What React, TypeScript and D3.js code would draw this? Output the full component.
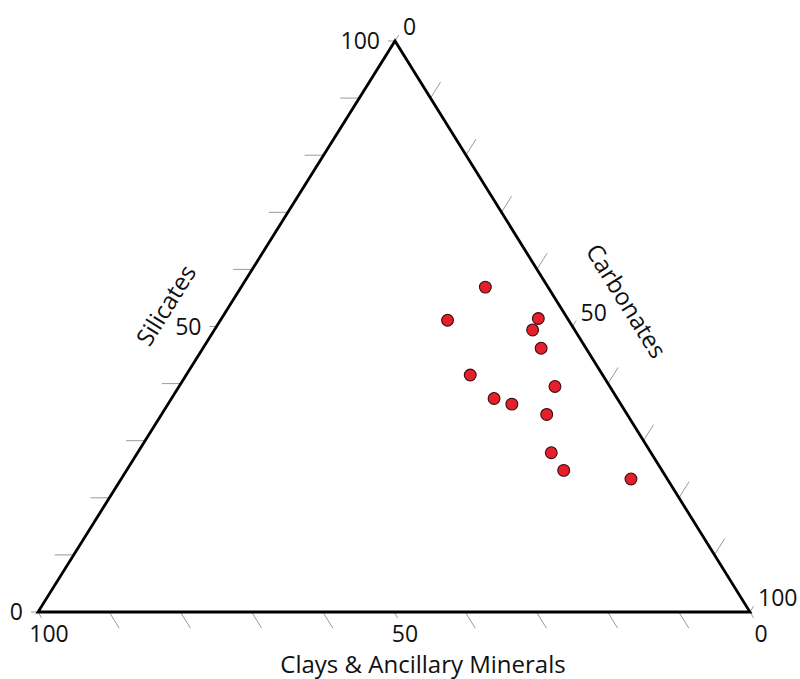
import React from "react";
import * as d3 from "d3";

// ---- Data (percent) ----
const silicates = [56.9, 51.1, 51.4, 49.4, 46.2, 41.5, 39.5, 37.4, 36.4, 34.6, 27.9, 24.8, 23.3];
const carbonates = [34.3, 31.9, 44.5, 44.7, 47.5, 39.9, 52.8, 45.3, 48.3, 54.1, 58.1, 61.4, 71.6];
const clays = [8.8, 17.0, 4.1, 5.9, 6.3, 18.6, 7.7, 17.3, 15.3, 11.3, 14.0, 13.8, 5.1];

const tickValues = [0, 10, 20, 30, 40, 50, 60, 70, 80, 90, 100];
const labelValues = [0, 50, 100];
const axisTitles = { silicates: "Silicates", carbonates: "Carbonates", clays: "Clays & Ancillary Minerals" };

// ---- Layout ----
const W = 800;
const H = 679;
const vClay: [number, number] = [38, 612]; // bottom-left
const vCarb: [number, number] = [750, 612]; // bottom-right
const vSil: [number, number] = [395, 41]; // top

const FONT = "'Open Sans', 'Noto Sans', sans-serif";

function unit(a: [number, number], b: [number, number]): [number, number] {
  const dx = b[0] - a[0];
  const dy = b[1] - a[1];
  const l = Math.hypot(dx, dy);
  return [dx / l, dy / l];
}

export default function App() {
  const silScale = d3.scaleLinear<[number, number]>().domain([0, 100]).range([vClay, vSil]);
  const carbScale = d3.scaleLinear<[number, number]>().domain([0, 100]).range([vSil, vCarb]);
  const claysScale = d3.scaleLinear<[number, number]>().domain([0, 100]).range([vCarb, vClay]);

  const project = (s: number, c: number, k: number): [number, number] => {
    const t = s + c + k;
    const ws = s / t, wc = c / t, wk = k / t;
    return [
      ws * vSil[0] + wc * vCarb[0] + wk * vClay[0],
      ws * vSil[1] + wc * vCarb[1] + wk * vClay[1],
    ];
  };

  const leftDir: [number, number] = [-1, 0];
  const bottomDir = unit(vSil, vCarb);
  const rightDir = unit(vClay, vSil);

  const tickLen = (v: number) => (v === 0 || v === 50 || v === 100 ? 7 : 19);

  const triPath = d3.line()([vClay, vCarb, vSil, vClay]) + "Z";

  const ticks: JSX.Element[] = [];
  tickValues.forEach((v) => {
    const L = tickLen(v);
    const p1 = silScale(v);
    ticks.push(<line key={"s" + v} x1={p1[0]} y1={p1[1]} x2={p1[0] + leftDir[0] * L} y2={p1[1] + leftDir[1] * L} />);
    const p2 = claysScale(v);
    ticks.push(<line key={"k" + v} x1={p2[0]} y1={p2[1]} x2={p2[0] + bottomDir[0] * L} y2={p2[1] + bottomDir[1] * L} />);
    const p3 = carbScale(v);
    ticks.push(<line key={"c" + v} x1={p3[0]} y1={p3[1]} x2={p3[0] + rightDir[0] * L} y2={p3[1] + rightDir[1] * L} />);
  });

  const sMid = silScale(48.7);
  const sN = [-0.848, -0.53];
  const sPos = [sMid[0] + sN[0] * 55, sMid[1] + sN[1] * 55];
  const sAng = (Math.atan2(vSil[1] - vClay[1], vSil[0] - vClay[0]) * 180) / Math.PI;

  const cMid = carbScale(51);
  const cN = [0.849, -0.528];
  const cPos = [cMid[0] + cN[0] * 60, cMid[1] + cN[1] * 60];
  const cAng = (Math.atan2(vCarb[1] - vSil[1], vCarb[0] - vSil[0]) * 180) / Math.PI;

  return (
    <svg width={W} height={H} style={{ position: "absolute", left: 0, top: 0, background: "#fff" }} fontFamily={FONT}>
      <g stroke="#9a9a9a" strokeWidth={1}>{ticks}</g>
      <path d={triPath} fill="none" stroke="#000" strokeWidth={2.8} strokeLinejoin="miter" />
      <g fontSize={23} fill="#111">
        {labelValues.map((v) => {
          const p = silScale(v);
          return (
            <text key={"sl" + v} x={p[0] - 15} y={p[1] + 8} textAnchor="end">
              {v}
            </text>
          );
        })}
        {labelValues.map((v) => {
          const p = claysScale(v);
          return (
            <text key={"kl" + v} x={p[0] + 11} y={p[1] + 30} textAnchor="middle">
              {v}
            </text>
          );
        })}
        {labelValues.map((v) => {
          const p = carbScale(v);
          return (
            <text key={"cl" + v} x={p[0] + 8} y={p[1] - 6} textAnchor="start">
              {v}
            </text>
          );
        })}
      </g>
      <g fontSize={24} fill="#111">
        <text
          transform={`translate(${sPos[0]},${sPos[1]}) rotate(${sAng})`}
          textAnchor="middle"
          dominantBaseline="central"
        >
          {axisTitles.silicates}
        </text>
        <text
          transform={`translate(${cPos[0]},${cPos[1]}) rotate(${cAng})`}
          textAnchor="middle"
          dominantBaseline="central"
        >
          {axisTitles.carbonates}
        </text>
        <text x={423} y={673} textAnchor="middle">
          {axisTitles.clays}
        </text>
      </g>
      <g fill="#e3202b" stroke="#3b0b0b" strokeWidth={1.1}>
        {silicates.map((s, i) => {
          const p = project(s, carbonates[i], clays[i]);
          return <circle key={i} cx={p[0]} cy={p[1]} r={5.9} />;
        })}
      </g>
    </svg>
  );
}
